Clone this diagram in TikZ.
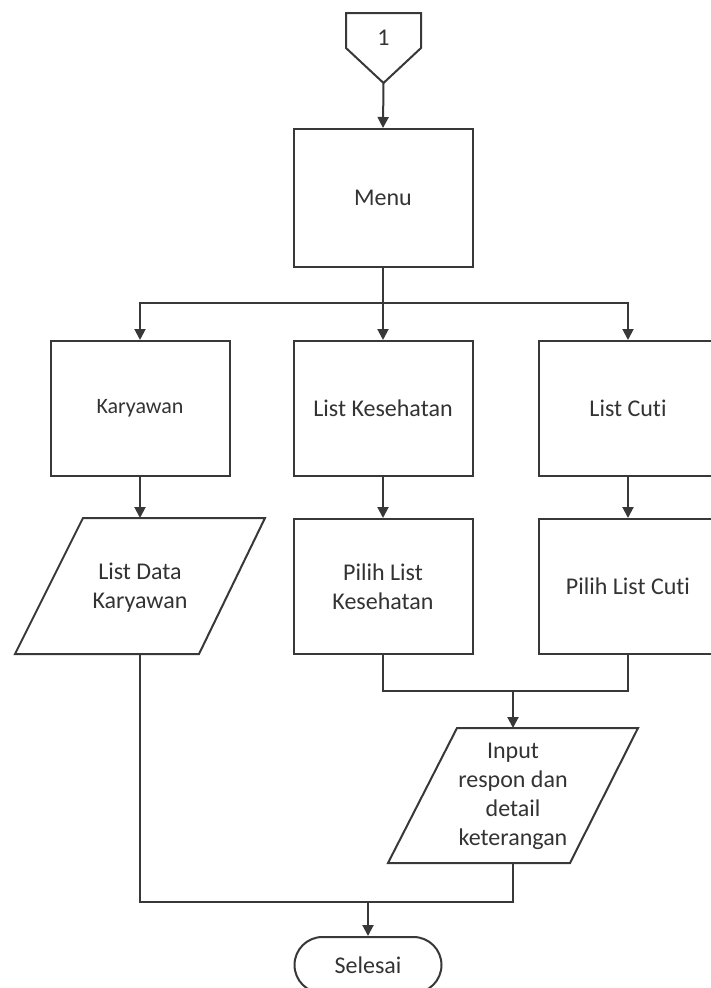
\documentclass[tikz,border=0pt]{standalone}
\usepackage{fontspec}
\setmainfont[Ligatures={NoCommon}]{Carlito}
\usetikzlibrary{arrows.meta,shapes.misc}
\definecolor{ln}{gray}{0.22}
\definecolor{tx}{gray}{0.2}
\tikzset{
  ln/.style={draw=ln,line width=2pt},
  arr/.style={ln,-{Triangle[length=11pt,width=11pt]}},
  procbox/.style={ln,rectangle,minimum width=179pt,minimum height=135pt,inner sep=0pt,text=tx,font=\fontsize{24}{29}\selectfont,align=center},
  lbl/.style={text=tx,font=\fontsize{24}{29}\selectfont,align=center,inner sep=0pt},
}
\begin{document}
\begin{tikzpicture}[x=1pt,y=-1pt]
\useasboundingbox (0,0) rectangle (710,988);
\fill[white] (0,0) rectangle (710,988);
% off-page connector
\draw[ln,line join=miter] (346,13) -- (421,13) -- (421,48) -- (383.5,83) -- (346,48) -- cycle;
\node[lbl] (c1) at (383.5,38) {1};
\coordinate (c1tip) at (383.5,83);
% boxes
\node[procbox] (menu) at (383,198) [minimum height=138pt] {Menu};
\node[procbox,font=\fontsize{22}{27}\selectfont] (kar) at (140,408.5) {Karyawan};
\node[procbox] (lkes) at (383,408.5) {List Kesehatan};
\node[procbox] (lcuti) at (628,408.5) {List Cuti};
\node[procbox] (pkes) at (383,586.5) {Pilih List\\Kesehatan};
\node[procbox] (pcuti) at (628,586.5) {Pilih List Cuti};
% parallelogram: List Data Karyawan
\draw[ln] (83,518) -- (265,518) -- (199,654) -- (15,654) -- cycle;
\node[lbl] (ldk) at (140,588) {List Data\\Karyawan};
\coordinate (ldkN) at (140,518);
\coordinate (ldkS) at (140,654);
% parallelogram: Input
\draw[ln] (457,728) -- (638,728) -- (570,863) -- (388,863) -- cycle;
\node[lbl] (inp) at (513,796) {Input\\respon dan\\detail\\keterangan};
\coordinate (inpN) at (513,728);
\coordinate (inpS) at (513,863);
% terminator
\node[ln,rounded rectangle,minimum width=147pt,minimum height=56pt,inner sep=0pt,text=tx,font=\fontsize{24}{29}\selectfont] (end) at (368,965) {Selesai};
% connectors
\draw[arr] (c1tip) -- (menu.north);
\coordinate (split) at (383,303);
\draw[ln] (menu.south) -- (split);
\draw[arr] (split) -- (lkes.north);
\draw[arr] (split) -| (kar.north);
\draw[arr] (split) -| (lcuti.north);
\draw[arr] (kar.south) -- (ldkN);
\draw[arr] (lkes.south) -- (pkes.north);
\draw[arr] (lcuti.south) -- (pcuti.north);
\coordinate (join1) at (513,691);
\draw[ln] (pkes.south) |- (join1) -| (pcuti.south);
\draw[arr] (join1) -- (inpN);
\coordinate (join2) at (368,902);
\draw[ln] (ldkS) |- (join2) -| (inpS);
\draw[arr] (join2) -- (end.north);
\end{tikzpicture}
\end{document}
